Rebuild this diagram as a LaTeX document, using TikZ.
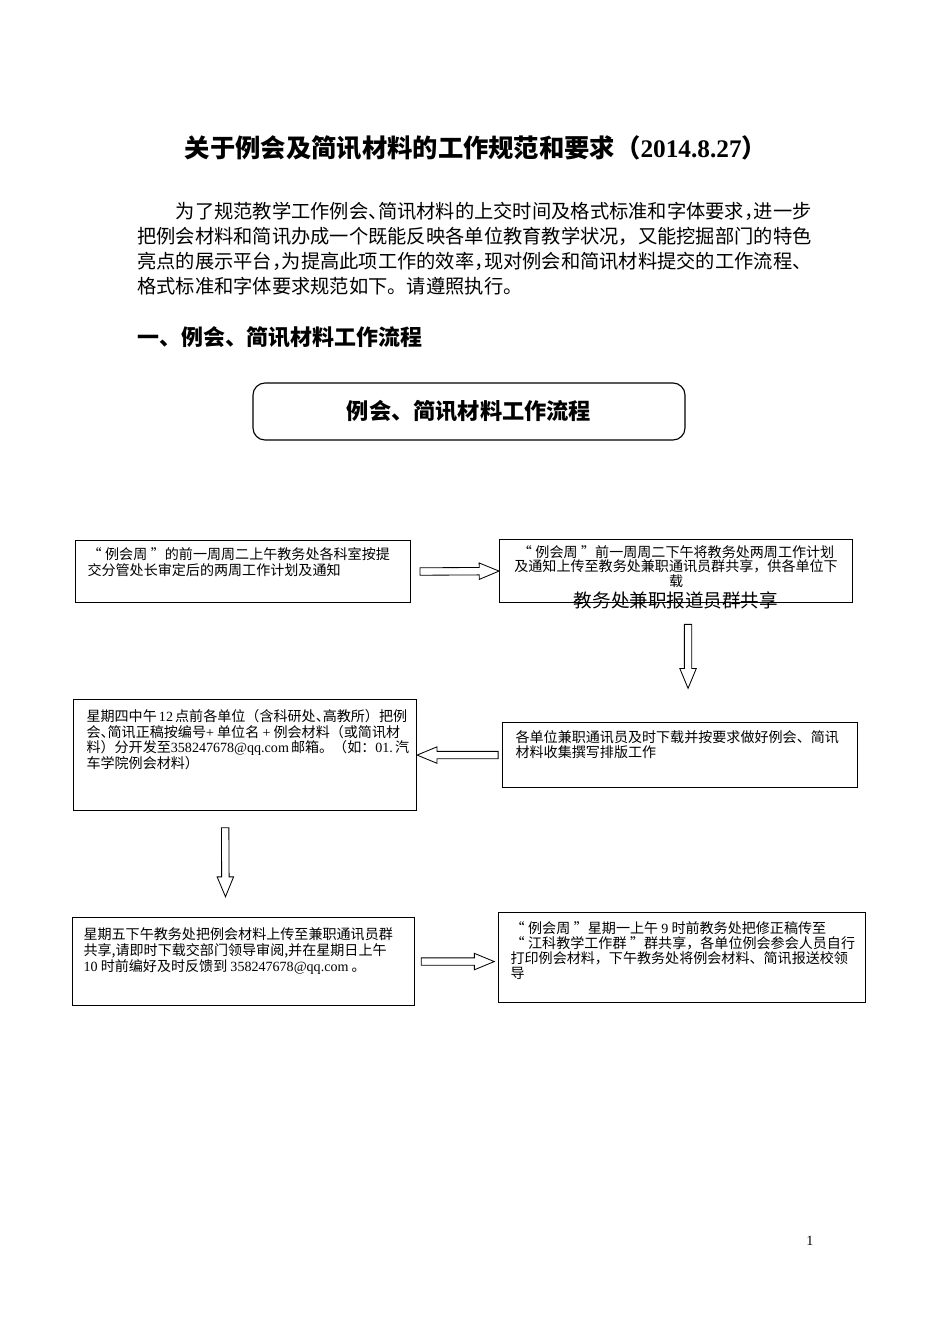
\documentclass[tikz,border=0pt]{standalone}
\usepackage{fontspec}
\setmainfont{Noto Sans CJK SC}
\newfontfamily\latinfont{Liberation Serif}
\usetikzlibrary{shapes.arrows}

\newdimen\pxu \pxu=0.025cm
% box text: width, height (px), line distance, text
\newcommand{\flowtext}[4]{\parbox[t][#2\pxu][t]{#1\pxu}{%
  \fontsize{10}{#3}\selectfont\lineskiplimit=-20pt\relax #4}}
\newcommand{\oquote}{\makebox[1.25em][l]{“}}
\newcommand{\cquote}{\makebox[1.25em][r]{”}}
\newcommand{\squeeze}{\kern-.5em}

\tikzset{
  flowbox/.style={draw, line width=0.8pt, anchor=north west},
  hollow/.style={single arrow, draw, line width=0.6pt, fill=white,
    inner xsep=0pt, inner ysep=3.3\pxu,
    minimum width=16\pxu, single arrow head extend=4.5\pxu,
    single arrow tip angle=45, sloped, allow upside down},
}

\begin{document}
\begin{tikzpicture}
    [x=0.025cm, y=-0.025cm]

    \path[use as bounding box, fill=white] (0,0) rectangle (950,1344);

    % heading and introduction:
    \node (title) at (476,148) [font=\fontsize{18}{20}\selectfont\bfseries]
      {关于例会及简讯材料的工作规范和要求（{\latinfont\bfseries 2014.8.27}）};
    \node (intro) at (137,202) [anchor=north west, inner sep=0pt, align=left,
      font=\fontsize{13.7}{17.8}\selectfont]
      {\hspace*{2em}为了规范教学工作例会、\squeeze 简讯材料的上交时间及格式标准和字体要求，\squeeze 进一步\\
       把例会材料和简讯办成一个既能反映各单位教育教学状况，又能挖掘部门的特色\\
       亮点的展示平台，\squeeze 为提高此项工作的效率，\squeeze 现对例会和简讯材料提交的工作流程、\\
       格式标准和字体要求规范如下。请遵照执行。};
    \node (section) at (137,337) [anchor=west, inner sep=0pt,
      font=\fontsize{15.6}{18}\selectfont\bfseries] {一、例会、简讯材料工作流程};

    % flow title:
    \node (flowtitle) at (469,411.5) [draw, line width=0.8pt, rounded corners=12\pxu,
      minimum width=432\pxu, minimum height=57\pxu,
      font=\fontsize{15.8}{18}\selectfont\bfseries] {例会、简讯材料工作流程};

    % top row:
    \node (b1) at (75,540) [flowbox, inner xsep=12\pxu, inner ysep=7\pxu]
      {\flowtext{311}{48}{11.4pt}{\raggedright
       \oquote 例会周\cquote 的前一周周二上午教务处各科室按提\\
       交分管处长审定后的两周工作计划及通知}};
    \node (b2) at (499,539) [flowbox, inner xsep=10\pxu, inner ysep=6\pxu]
      {\flowtext{333}{51}{10.3pt}{\centering
       \oquote 例会周\cquote 前一周周二下午将教务处两周工作计划\\
       及通知上传至教务处兼职通讯员群共享，供各单位下\\
       载}};
    \node (b2note) at (676,600) [font=\fontsize{13.2}{15}\selectfont] {教务处兼职报道员群共享};

    % middle row:
    \node (b3) at (502,722) [flowbox, inner xsep=13\pxu, inner ysep=8\pxu]
      {\flowtext{329}{49}{10.7pt}{\raggedright
       各单位兼职通讯员及时下载并按要求做好例会、简讯\\
       材料收集撰写排版工作}};
    \node (b4) at (73,699) [flowbox, inner xsep=13\pxu, inner ysep=10\pxu]
      {\flowtext{317}{91}{11pt}{\raggedright
       星期四中午~{\latinfont 12}~点前各单位（含科研处、\squeeze 高教所）把例\\
       会、\squeeze 简讯正稿按编号{\latinfont +}~单位名~{\latinfont +}~例会材料（或简讯材\\
       料）分开发至{\latinfont 358247678@qq.com}~邮箱。（如：{\latinfont 01.}~汽\\
       车学院例会材料）}};

    % bottom row:
    \node (b5) at (72,917) [flowbox, inner xsep=11\pxu, inner ysep=10\pxu]
      {\flowtext{320}{68}{11.4pt}{\raggedright
       星期五下午教务处把例会材料上传至兼职通讯员群\\
       共享,请即时下载交部门领导审阅,并在星期日上午\\
       {\latinfont 10}~时前编好及时反馈到~{\latinfont 358247678@qq.com}~。}};
    \node (b6) at (498,912) [flowbox, inner xsep=12\pxu, inner ysep=9\pxu]
      {\flowtext{343}{72}{10.7pt}{\raggedright
       \oquote 例会周\cquote 星期一上午~{\latinfont 9}~时前教务处把修正稿传至\\
       \oquote 江科教学工作群\cquote 群共享，各单位例会参会人员自行\\
       打印例会材料，下午教务处将例会材料、简讯报送校领\\
       导}};

    % page number:
    \node (pagenum) at (810,1241) [font=\latinfont\fontsize{10}{12}\selectfont] {1};

    % connect boxes:
    \path (b1.east) -- node [hollow, minimum height=79\pxu] (a1) {} (b2.west);
    \path ([xshift=12\pxu]b2.south) -- node [hollow, pos=0.41, minimum height=64\pxu] (a2) {}
      ([xshift=8\pxu]b3.north);
    \path (b3.west) -- node [hollow, pos=0.47, minimum height=81\pxu] (a3) {} (b4.east);
    \path ([xshift=-20\pxu]b4.south) -- node [hollow, pos=0.44, minimum height=69\pxu] (a4) {}
      ([xshift=-18\pxu]b5.north);
    \path (b5.east) -- node [hollow, pos=0.46, minimum height=73\pxu] (a5) {} (b5.east -| b6.west);

  \end{tikzpicture}
\end{document}
